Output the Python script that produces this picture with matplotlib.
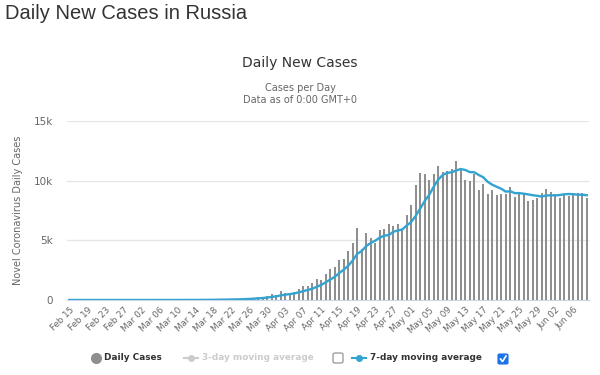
import matplotlib
matplotlib.use('Agg')
import matplotlib.pyplot as plt
from matplotlib.lines import Line2D
from matplotlib.patches import FancyBboxPatch
import pandas as pd

# data: Russia, daily new cases Feb 15 - Jun 09 2020
dates = pd.date_range('2020-02-15', '2020-06-09')
feb_cases = [0] * 16  # Feb 15 - Mar 01
mar_cases = [1, 0, 0, 1, 6, 0, 3, 0, 3, 8, 6, 11, 14, 4, 30, 21, 33, 52, 54, 53,
             61, 71, 57, 163, 182, 196, 228, 270, 302, 501]
apr_cases = [440, 771, 601, 582, 658, 954, 1154, 1175, 1459, 1786, 1667, 2186,
             2558, 2774, 3388, 3448, 4070, 4785, 6060, 4268, 5642, 5236, 4774,
             5849, 5966, 6361, 6198, 6411, 5841, 7099]
may_cases = [7933, 9623, 10633, 10581, 10102, 10559, 11231, 10699, 10817, 11012,
             11656, 10899, 10028, 9974, 10598, 9200, 9709, 8926, 9263, 8764,
             8849, 8894, 9434, 8599, 8946, 8915, 8338, 8371, 8572, 8952, 9268]
jun_cases = [9035, 8863, 8536, 8831, 8726, 8855, 8984, 8985, 8595]

daily_cases = feb_cases + mar_cases + apr_cases + may_cases + jun_cases
avg7 = pd.Series(daily_cases).rolling(7, min_periods=1).mean()

tick_labels = [d.strftime('%b %d') for d in dates]
y_ticks = [0, 5000, 10000, 15000]
y_labels = ['0', '5k', '10k', '15k']

bar_color = '#8f8f8f'
line_color = '#33a3d1'
grey_txt = '#666666'

fig = plt.figure(figsize=(6, 3.75), dpi=100)
ax = fig.add_axes([67 / 600, 0.2, 522 / 600, 0.477])

x = list(range(len(daily_cases)))
ax.bar(x, daily_cases, width=0.42, color=bar_color, zorder=2)
ax.plot(x, avg7, color=line_color, lw=1.7, zorder=3)

ax.set_xlim(-0.5, len(daily_cases) - 0.5)
ax.set_ylim(0, 15000)
ax.set_yticks(y_ticks)
ax.set_yticklabels(y_labels)
ax.grid(axis='y', color='#e6e6e6', lw=1, zorder=0)
ax.set_axisbelow(True)

ax.set_xticks(x[::4])
ax.set_xticklabels(tick_labels[::4], rotation=45, ha='right',
                   rotation_mode='anchor', fontsize=6.3, color=grey_txt)
ax.tick_params(axis='x', length=0, pad=4)
ax.tick_params(axis='y', length=0, pad=10, labelsize=7.5, labelcolor=grey_txt)

for s in ['top', 'right', 'left']:
    ax.spines[s].set_visible(False)
ax.spines['bottom'].set_color('#ccd6eb')

ax.set_ylabel('Novel Coronavirus Daily Cases', fontsize=7, color=grey_txt, labelpad=8)

# titles
fig.text(0.008, 0.965, 'Daily New Cases in Russia', fontsize=14.5, color='#333333',
         family='Liberation Sans', va='center', ha='left')
fig.text(0.5, 0.832, 'Daily New Cases', fontsize=10, color='#333333', ha='center', va='center')
fig.text(0.5, 0.765, 'Cases per Day', fontsize=7, color=grey_txt, ha='center', va='center')
fig.text(0.5, 0.733, 'Data as of 0:00 GMT+0', fontsize=7, color=grey_txt, ha='center', va='center')

# legend
ly = 1 - 358 / 375
legend_fs = 6.4
fig.add_artist(Line2D([96 / 600], [ly], marker='o', ms=7, color=bar_color,
                      transform=fig.transFigure))
fig.text(104 / 600, ly, 'Daily Cases', fontsize=legend_fs, weight='bold', color='#333333', va='center')
fig.add_artist(Line2D([184 / 600, 198 / 600], [ly, ly], color='#cccccc', lw=1.5,
                      transform=fig.transFigure))
fig.add_artist(Line2D([191 / 600], [ly], marker='o', ms=4, color='#cccccc',
                      transform=fig.transFigure))
fig.text(202 / 600, ly, '3-day moving average', fontsize=legend_fs, weight='bold', color='#cccccc', va='center')
fig.add_artist(FancyBboxPatch((333 / 600, ly - 5 / 375), 10 / 600, 10 / 375,
                              boxstyle='round,pad=0,rounding_size=0.004',
                              fc='white', ec='#888888', lw=0.8,
                              transform=fig.transFigure))
fig.add_artist(Line2D([352 / 600, 366 / 600], [ly, ly], color=line_color, lw=1.5,
                      transform=fig.transFigure))
fig.add_artist(Line2D([359 / 600], [ly], marker='o', ms=4, color=line_color,
                      transform=fig.transFigure))
fig.text(370 / 600, ly, '7-day moving average', fontsize=legend_fs, weight='bold', color='#333333', va='center')
fig.add_artist(FancyBboxPatch((498 / 600, ly - 6 / 375), 10 / 600, 10 / 375,
                              boxstyle='round,pad=0,rounding_size=0.003',
                              fc='#1a73e8', ec='#1a73e8', lw=0.8,
                              transform=fig.transFigure))
fig.add_artist(Line2D([500.5 / 600, 502.5 / 600, 506 / 600],
                      [ly - 1 / 375, ly - 3.5 / 375, ly + 2 / 375],
                      color='white', lw=1.2, transform=fig.transFigure))

fig.savefig('out.png', dpi=100, facecolor='white')
